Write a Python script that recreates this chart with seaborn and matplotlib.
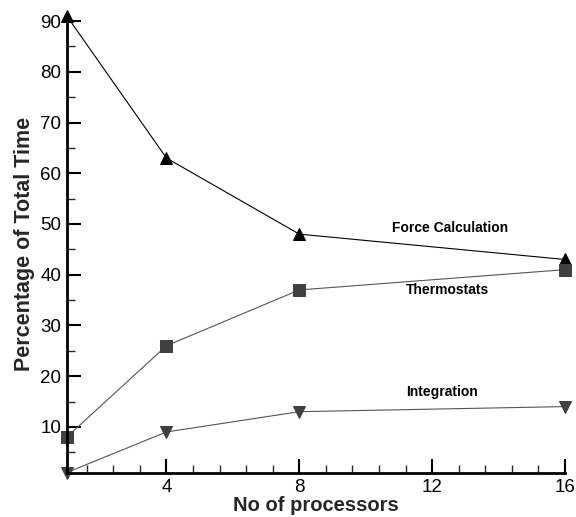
import matplotlib

matplotlib.use("Agg")

import matplotlib.pyplot as plt
import pandas as pd
import seaborn as sns
from matplotlib.ticker import MultipleLocator

processors = [1, 4, 8, 16]
force_calc = [91, 63, 48, 43]
thermostats = [8, 26, 37, 41]
integration = [1, 9, 13, 14]

series_labels = ["Force Calculation", "Thermostats", "Integration"]
label_pos = [(12.55, 49.3), (12.45, 37.0), (12.3, 16.8)]

df = pd.DataFrame({
    "processors": processors * 3,
    "percent": force_calc + thermostats + integration,
    "series": sum([[s] * len(processors) for s in series_labels], []),
})

sns.set_theme(style="ticks")
plt.rcParams["font.family"] = ["Liberation Sans", "DejaVu Sans"]

fig = plt.figure(figsize=(5.76, 5.17), dpi=100)
ax = fig.add_axes([0.116, 0.086, 0.865, 0.883])

styles = {
    "Force Calculation": ("^", "black", "black"),
    "Thermostats": ("s", "#404040", "#555555"),
    "Integration": ("v", "#404040", "#555555"),
}
for name in series_labels:
    marker, mcol, lcol = styles[name]
    sns.lineplot(
        data=df[df["series"] == name], x="processors", y="percent",
        ax=ax, color=lcol, linewidth=0.8, marker=marker, markersize=9,
        markerfacecolor=mcol, markeredgecolor=mcol, clip_on=False,
    )

for name, (tx, ty) in zip(series_labels, label_pos):
    ax.text(tx, ty, name, ha="center", va="center", fontsize=10,
            fontweight="bold", color="black")

ax.set_xlim(1, 16)
ax.set_ylim(1, 91)
ax.xaxis.set_major_locator(MultipleLocator(4))
ax.xaxis.set_minor_locator(MultipleLocator(0.8))
ax.yaxis.set_major_locator(MultipleLocator(10))
ax.yaxis.set_minor_locator(MultipleLocator(5))
ax.set_xticks([4, 8, 12, 16])
ax.set_yticks([10, 20, 30, 40, 50, 60, 70, 80, 90])

ax.tick_params(which="major", direction="in", length=10, width=1.5,
               labelsize=13.5, colors="black")
ax.tick_params(which="minor", direction="in", length=6, width=1)
ax.tick_params(axis="x", pad=5)
ax.tick_params(axis="y", pad=4)

sns.despine(ax=ax)
for side in ["left", "bottom"]:
    ax.spines[side].set_linewidth(2)
    ax.spines[side].set_color("black")

ax.set_xlabel("No of processors", fontsize=14.5, fontweight="bold", labelpad=0)
ax.set_ylabel("Percentage of Total Time", fontsize=15.5, fontweight="bold", labelpad=4)

fig.savefig("out.png", dpi=100)
